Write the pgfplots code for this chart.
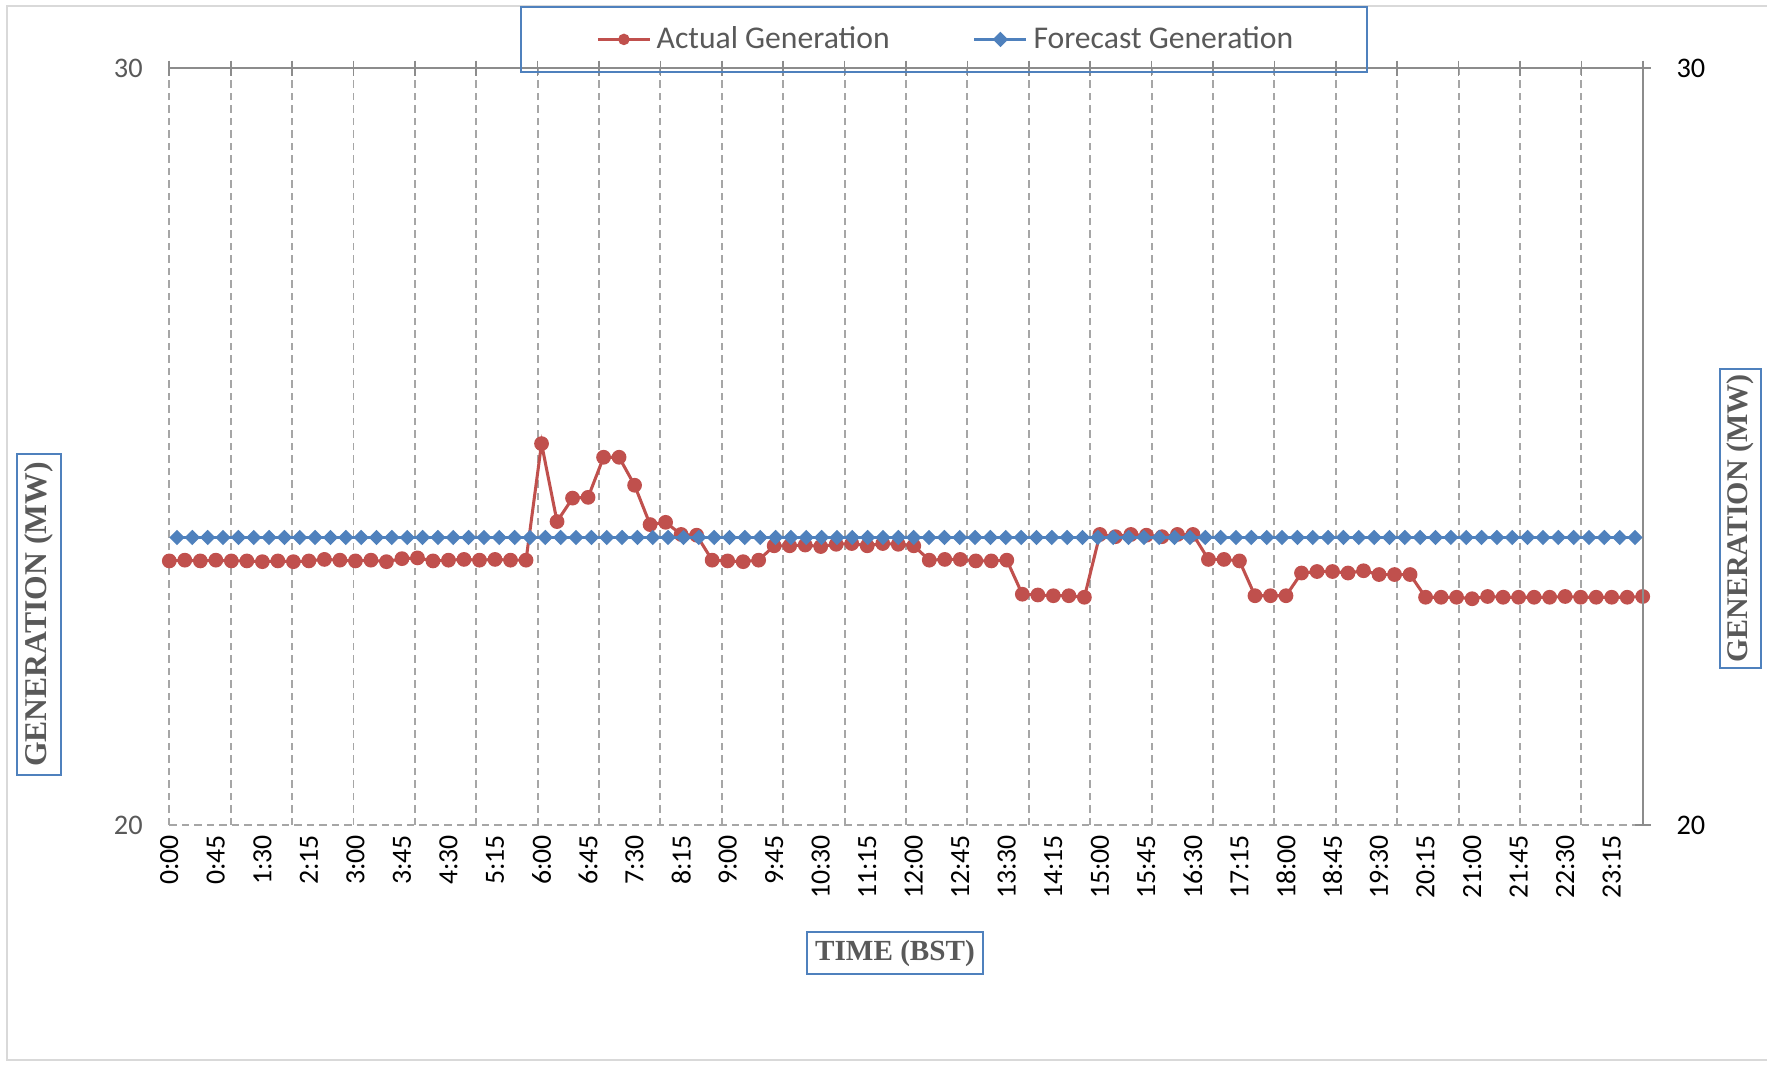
\documentclass[border=0pt]{standalone}
\usepackage{pgfplots}
\pgfplotsset{compat=1.18}
\usepackage{pgfplotstable}
\usepackage{fontspec}
\setmainfont{Carlito}
\newfontfamily\titlefont{Liberation Serif}
\definecolor{actred}{HTML}{C0504D}
\definecolor{fcblue}{HTML}{4F81BD}
\definecolor{boxblue}{HTML}{4F81BD}
\definecolor{textgray}{HTML}{595959}
\definecolor{gridgray}{HTML}{A6A6A6}
\definecolor{axisgray}{HTML}{8C8C8C}
\definecolor{framegray}{HTML}{D9D9D9}

\pgfplotstableread{
x y
0 23.49
1 23.50
2 23.49
3 23.50
4 23.49
5 23.49
6 23.48
7 23.49
8 23.48
9 23.49
10 23.51
11 23.50
12 23.49
13 23.50
14 23.48
15 23.52
16 23.53
17 23.49
18 23.50
19 23.51
20 23.50
21 23.51
22 23.50
23 23.50
24 25.04
25 24.01
26 24.32
27 24.33
28 24.86
29 24.86
30 24.49
31 23.97
32 24.00
33 23.84
34 23.83
35 23.50
36 23.49
37 23.48
38 23.50
39 23.69
40 23.69
41 23.70
42 23.68
43 23.71
44 23.72
45 23.69
46 23.72
47 23.71
48 23.69
49 23.50
50 23.51
51 23.51
52 23.49
53 23.49
54 23.50
55 23.05
56 23.04
57 23.03
58 23.03
59 23.01
60 23.84
61 23.81
62 23.84
63 23.83
64 23.81
65 23.84
66 23.84
67 23.51
68 23.51
69 23.49
70 23.03
71 23.03
72 23.03
73 23.33
74 23.35
75 23.35
76 23.33
77 23.36
78 23.31
79 23.31
80 23.31
81 23.01
82 23.01
83 23.01
84 22.99
85 23.02
86 23.01
87 23.01
88 23.01
89 23.01
90 23.02
91 23.01
92 23.01
93 23.01
94 23.01
95 23.02
}\actualtable

\pgfplotstableread{
x y
0.5 23.8
1.5 23.8
2.5 23.8
3.5 23.8
4.5 23.8
5.5 23.8
6.5 23.8
7.5 23.8
8.5 23.8
9.5 23.8
10.5 23.8
11.5 23.8
12.5 23.8
13.5 23.8
14.5 23.8
15.5 23.8
16.5 23.8
17.5 23.8
18.5 23.8
19.5 23.8
20.5 23.8
21.5 23.8
22.5 23.8
23.5 23.8
24.5 23.8
25.5 23.8
26.5 23.8
27.5 23.8
28.5 23.8
29.5 23.8
30.5 23.8
31.5 23.8
32.5 23.8
33.5 23.8
34.5 23.8
35.5 23.8
36.5 23.8
37.5 23.8
38.5 23.8
39.5 23.8
40.5 23.8
41.5 23.8
42.5 23.8
43.5 23.8
44.5 23.8
45.5 23.8
46.5 23.8
47.5 23.8
48.5 23.8
49.5 23.8
50.5 23.8
51.5 23.8
52.5 23.8
53.5 23.8
54.5 23.8
55.5 23.8
56.5 23.8
57.5 23.8
58.5 23.8
59.5 23.8
60.5 23.8
61.5 23.8
62.5 23.8
63.5 23.8
64.5 23.8
65.5 23.8
66.5 23.8
67.5 23.8
68.5 23.8
69.5 23.8
70.5 23.8
71.5 23.8
72.5 23.8
73.5 23.8
74.5 23.8
75.5 23.8
76.5 23.8
77.5 23.8
78.5 23.8
79.5 23.8
80.5 23.8
81.5 23.8
82.5 23.8
83.5 23.8
84.5 23.8
85.5 23.8
86.5 23.8
87.5 23.8
88.5 23.8
89.5 23.8
90.5 23.8
91.5 23.8
92.5 23.8
93.5 23.8
94.5 23.8
95.5 23.8
}\forecasttable

\begin{document}
\begin{tikzpicture}
\useasboundingbox (0,0) rectangle (636.12pt,383.76pt);
\draw[framegray, line width=0.7pt] (636.12pt,381.6pt) -- (2.52pt,381.6pt) -- (2.52pt,2.16pt) -- (636.12pt,2.16pt);

% grid-only axis (drawn first, behind the series)
\begin{axis}[
  scale only axis, width=530.42pt, height=272.41pt,
  at={(60.95pt,86.76pt)}, anchor=south west,
  xmin=0, xmax=96, ymin=20, ymax=30,
  axis line style={draw=none},
  major tick length=0pt,
  xtick={0,4,...,96}, ytick={20,30},
  xticklabels={}, yticklabels={},
  grid=major,
  major grid style={dash pattern=on 2.6pt off 1.9pt, color=gridgray, line width=0.7pt},
]
\end{axis}

% primary axis
\begin{axis}[
  scale only axis, width=530.42pt, height=272.41pt,
  at={(60.95pt,86.76pt)}, anchor=south west,
  xmin=0, xmax=95, ymin=20, ymax=30,
  axis x line*=bottom, axis y line*=left,
  axis line style={draw=none},
  major tick length=0pt,
  xtick={0,3,...,93},
  xticklabels={0:00,0:45,1:30,2:15,3:00,3:45,4:30,5:15,6:00,6:45,7:30,8:15,9:00,9:45,10:30,11:15,12:00,12:45,13:30,14:15,15:00,15:45,16:30,17:15,18:00,18:45,19:30,20:15,21:00,21:45,22:30,23:15},
  ytick={20,30},
  /pgf/number format/assume math mode=true,
  xticklabel style={rotate=90, anchor=east, inner sep=0pt, font=\fontsize{10}{12}\selectfont, text=black, xshift=2pt},
  xticklabel shift=5.4pt,
  yticklabel style={anchor=east, inner sep=0pt, font=\fontsize{10.2}{12}\selectfont, text=textgray},
  yticklabel shift=9.4pt,
  clip=false,
]
\addplot[color=actred, line width=1.1pt, mark=*, mark size=2.1pt, mark options={solid, fill=actred, draw=actred}] table[x=x, y=y] {\actualtable};
\end{axis}

% secondary axis
\begin{axis}[
  scale only axis, width=530.42pt, height=272.41pt,
  at={(60.95pt,86.76pt)}, anchor=south west,
  xmin=0, xmax=96, ymin=20, ymax=30,
  axis x line*=top, axis y line*=right,
  axis line style={-, color=axisgray, line width=0.7pt},
  xtick={0,4,...,96}, xticklabels={},
  ytick={20,30},
  tick align=center,
  major tick length=5.6pt,
  tick style={color=axisgray, line width=0.6pt},
  /pgf/number format/assume math mode=true,
  yticklabel style={anchor=west, inner sep=0pt, font=\fontsize{10.2}{12}\selectfont, text=black},
  yticklabel shift=9.2pt,
  clip=false,
  legend columns=2,
  legend style={at={(0.5283,1.0382)}, anchor=center, draw=none, fill=none,
    font=\fontsize{11.4}{13}\selectfont, text=textgray,
    /tikz/every even column/.append style={column sep=28pt},
    nodes={inner xsep=2pt}},
  legend image code/.code={\draw[mark repeat=2, mark phase=2, #1] plot coordinates {(0pt,0pt) (9.35pt,0pt) (18.7pt,0pt)};},
]
\addlegendimage{color=actred, line width=0.9pt, mark=*, mark size=1.6pt, mark options={solid, fill=actred, draw=actred}}
\addlegendentry{Actual Generation}
\addplot[color=fcblue, line width=1.1pt, mark=square*, mark size=1.7pt, mark options={solid, rotate=45, fill=fcblue, draw=fcblue, line width=0.5pt}] table[x=x, y=y] {\forecasttable};
\addlegendentry{Forecast Generation}
\end{axis}

% legend frame
\draw[boxblue, line width=0.7pt] (187.56pt,357.84pt) rectangle (492.12pt,381.24pt);

% axis titles
\node[draw=boxblue, line width=0.7pt, rotate=90, minimum width=115.6pt, minimum height=15.8pt, inner sep=0pt, text=textgray, font=\titlefont\bfseries\fontsize{11.4}{13}\selectfont] at (14.04pt,162.54pt) {GENERATION (MW)};
\node[draw=boxblue, line width=0.7pt, rotate=90, minimum width=107.9pt, minimum height=15pt, inner sep=0pt, text=textgray, font=\titlefont\bfseries\fontsize{10.8}{12}\selectfont] at (626.6pt,197.1pt) {GENERATION (MW)};
\node[draw=boxblue, line width=0.7pt, minimum width=63.4pt, minimum height=15.1pt, inner sep=0pt, text=textgray, font=\titlefont\bfseries\fontsize{10.5}{12}\selectfont] at (322.2pt,40.68pt) {TIME (BST)};
\end{tikzpicture}
\end{document}
